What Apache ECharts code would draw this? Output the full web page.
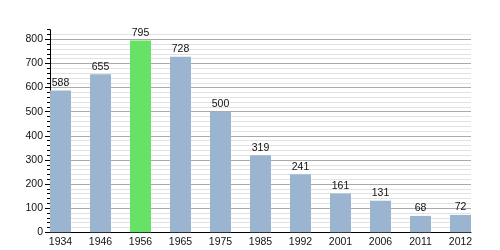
<!DOCTYPE html>
<html>
<head>
<meta charset="utf-8">
<script src="https://cdn.jsdelivr.net/npm/echarts@6/dist/echarts.min.js"></script>
<style>html,body{margin:0;padding:0;background:#fff}#c{width:500px;height:250px}</style>
</head>
<body>
<div id="c"></div>
<script>
var years = ['1934','1946','1956','1965','1975','1985','1992','2001','2006','2011','2012'];
var population = [588,655,795,728,500,319,241,161,131,68,72];
var highlightYear = '1956';
var yMax = 840;

var chart = echarts.init(document.getElementById('c'), null, {renderer:'canvas'});
var font = 'Liberation Sans, Arial, sans-serif';
var gTop = 29.7, gBottom = 17.7;
chart.setOption({
  animation:false,
  grid:[
    {left:40.5, width:440, top:gTop, bottom:gBottom},
    {left:50, width:421, top:gTop, bottom:gBottom}
  ],
  xAxis:[
    {type:'category', gridIndex:0, data:years, axisLine:{show:false}, axisTick:{show:false},
     axisLabel:{color:'#111', fontSize:10.5, fontFamily:font, margin:4}, splitLine:{show:false}, z:5},
    {type:'value', gridIndex:1, min:0, max:1, axisLine:{show:true, onZero:false, lineStyle:{color:'#000', width:1}},
     axisTick:{show:false}, axisLabel:{show:false}, splitLine:{show:false}, z:6}
  ],
  yAxis:[
    {type:'value', gridIndex:0, min:0, max:yMax, show:false},
    {type:'value', gridIndex:1, position:'left', offset:0, min:0, max:yMax, interval:100, z:4,
     axisLine:{show:true, onZero:false, lineStyle:{color:'#000', width:1}},
     axisTick:{show:true, length:5, lineStyle:{color:'#000'}},
     axisLabel:{color:'#111', fontSize:10.5, fontFamily:font, margin:7, showMaxLabel:false},
     splitLine:{show:true, showMaxLine:false, showMinLine:false, lineStyle:{color:'#aaa', width:1}}},
    {type:'value', gridIndex:1, position:'left', offset:0, min:0, max:yMax, interval:20, z:3,
     axisLine:{show:false, onZero:false},
     axisTick:{show:true, length:3, lineStyle:{color:'#000'}},
     axisLabel:{show:false},
     splitLine:{show:true, showMaxLine:false, showMinLine:false, lineStyle:{color:'#e2e2e2', width:1}}}
  ],
  series:[{
    type:'bar', xAxisIndex:0, yAxisIndex:0, barWidth:21, z:10,
    data: population.map(function(v,i){
      return {value:v, itemStyle:{color: years[i]===highlightYear ? '#66e266' : '#9bb4cf'}};
    }),
    label:{show:true, position:'top', distance:2, color:'#111', fontSize:10.5, fontFamily:font}
  }]
});
</script>
</body>
</html>
